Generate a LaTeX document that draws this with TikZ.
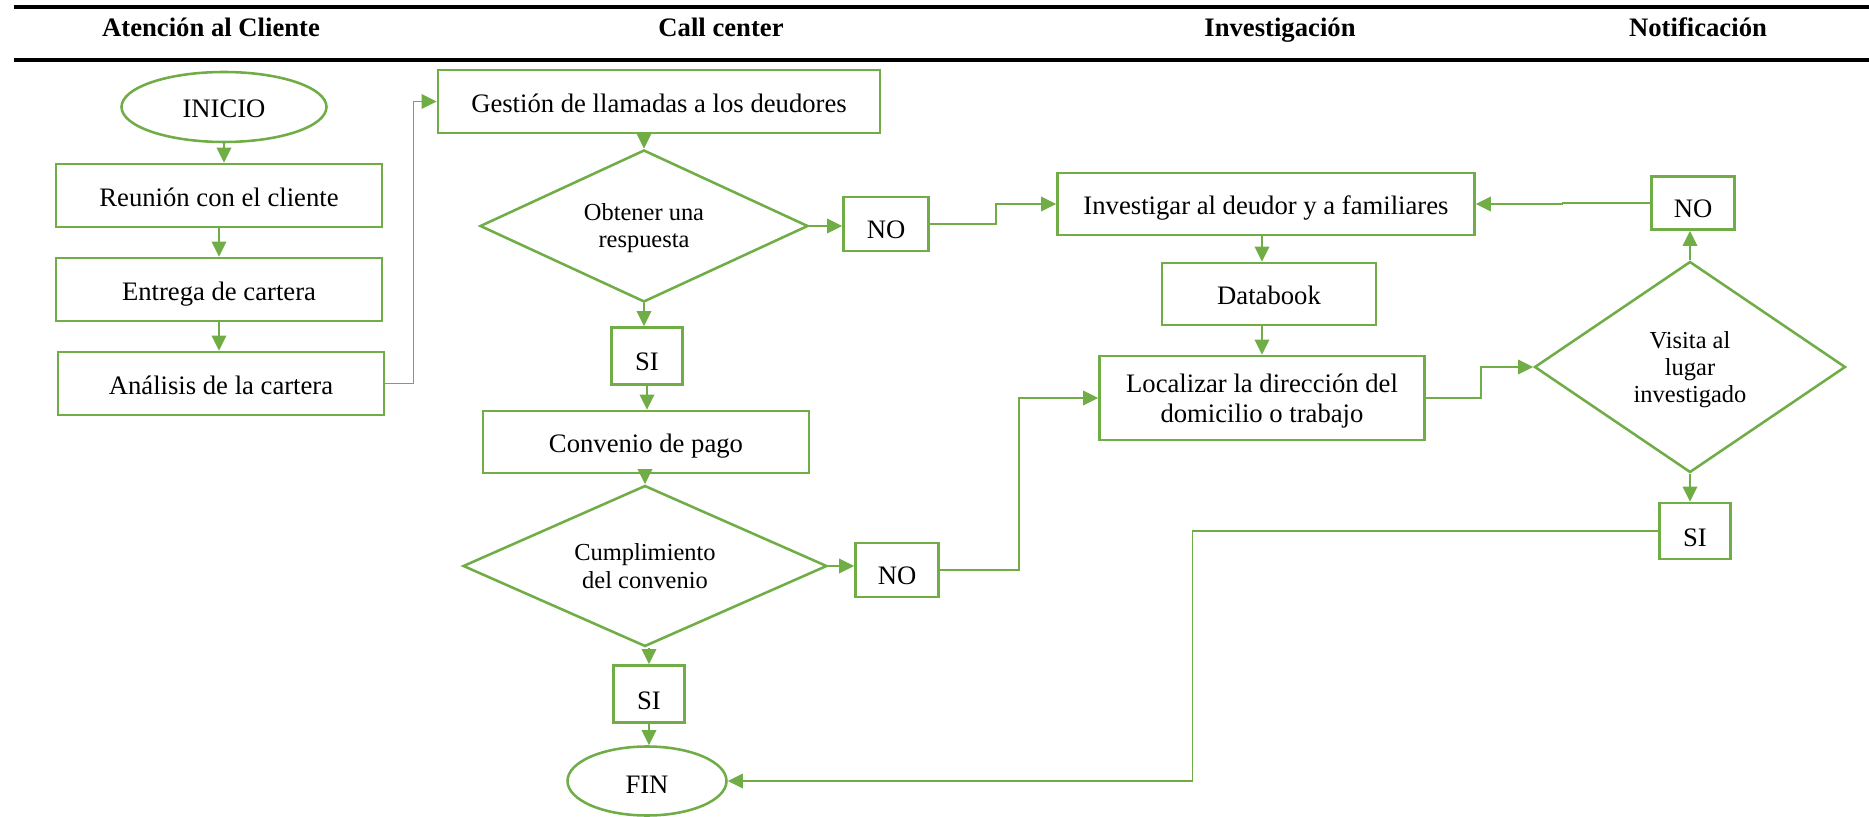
\documentclass[tikz,border=0pt]{standalone}
\usepackage{fontspec}
\setmainfont{Liberation Serif}
\usetikzlibrary{shapes.geometric,arrows.meta,calc}
\definecolor{flow}{HTML}{70AD47}
\tikzset{
  sz/.style 2 args={minimum width={#1*0.45pt}, minimum height={#2*0.45pt}},
  stepbox/.style={draw=flow, line width=1.15pt, inner sep=0pt, align=center,
    font=\fontsize{12}{13.5}\selectfont, text height=9.6pt, text depth=0pt},
  flag/.style={stepbox, text height=13.5pt},
  terminal/.style={ellipse, draw=flow, line width=1.15pt, inner sep=0pt,
    font=\fontsize{12}{14}\selectfont, text depth=0pt},
  decision/.style={diamond, draw=flow, line width=1.15pt, inner sep=0pt, aspect=2,
    align=center, font=\fontsize{11}{12.3}\selectfont,
    text height=19.8pt, text depth=0pt},
  arr/.style={draw=flow, line width=0.65pt, -{Triangle[length=6.8pt,width=6.6pt]}},
  lane/.style={anchor=base, font=\bfseries\fontsize{12}{14}\selectfont},
  rule/.style={draw=black, line width=1.4pt}
}
\begin{document}
\begin{tikzpicture}[x=0.45pt, y=-0.45pt]
\useasboundingbox (0,0) rectangle (1869,817);

% lane titles between two rules
\coordinate (r1a) at (14,7);   \coordinate (r1b) at (1869,7);
\coordinate (r2a) at (14,60);  \coordinate (r2b) at (1869,60);
\draw[rule] (r1a) -- (r1b);
\draw[rule] (r2a) -- (r2b);
\node[lane] (hA) at (211,37)  {Atención al Cliente};
\node[lane] (hC) at (721,37)  {Call center};
\node[lane] (hI) at (1280,37) {Investigación};
\node[lane] (hN) at (1698,37) {Notificación};

% customer service
\node[terminal, sz={205}{70}, text height=9.9pt] (inicio) at (224,107) {INICIO};
\node[stepbox, sz={326}{63}] (reunion)  at (219,195.5) {Reunión con el cliente};
\node[stepbox, sz={326}{63}] (entrega)  at (219,289.5) {Entrega de cartera};
\node[stepbox, sz={326}{63}] (analisis) at (221,383.5) {Análisis de la cartera};

% call center
\node[stepbox, sz={442}{63}] (gestion) at (659,101.5) {Gestión de llamadas a los deudores};
\node[decision, sz={328}{152}] (d1) at (644,226) {Obtener una\\respuesta};
\node[flag, sz={85}{54}] (no1) at (886,224) {NO};
\node[flag, sz={71}{57}] (si1) at (647,356) {SI};
\node[stepbox, sz={326}{62}] (convenio) at (646,442) {Convenio de pago};
\node[decision, sz={364}{161}] (d2) at (645,566) {Cumplimiento\\del convenio};
\node[flag, sz={83}{54}] (no2) at (897,570) {NO};
\node[flag, sz={71}{57}] (si2) at (649,694) {SI};
\node[terminal, sz={159}{69}, text height=11.2pt] (fin) at (647,781) {FIN};

% investigation
\node[stepbox, sz={417}{62}] (inv) at (1266,204) {Investigar al deudor y a familiares};
\node[stepbox, sz={214}{62}] (databook) at (1269,294) {Databook};
\node[stepbox, sz={325}{84}, text height=22.5pt] (loc) at (1262,398)
  {Localizar la dirección del\\domicilio o trabajo};

% notification
\node[decision, sz={311}{211}, text height=32.4pt] (visita) at (1690,367) {Visita al\\lugar\\investigado};
\node[flag, sz={83}{53}] (no3) at (1693,203) {NO};
\node[flag, sz={71}{56}] (si3) at (1695,531) {SI};

% connectors
\draw[arr] (inicio.south) -- (inicio.south |- reunion.north);
\draw[arr] (reunion.south) -- (reunion.south |- entrega.north);
\draw[arr] (entrega.south) -- (entrega.south |- analisis.north);
\draw[arr] (analisis.east) -- ++(28,0) |- (gestion.west);
\draw[arr] (d1.north |- gestion.south) -- (d1.north);
\draw[arr] (d1.east) -- (no1.west |- d1.east);
\draw[arr] (no1.east) -- ++(66,0) |- (inv.west);
\draw[arr] (d1.south) -- (d1.south |- si1.north);
\draw[arr] (si1.south) -- (si1.south |- convenio.north);
\draw[arr] (d2.north |- convenio.south) -- (d2.north);
\draw[arr] (d2.east) -- (no2.west |- d2.east);
\draw[arr] (no2.east) -- ++(79,0) |- (loc.west);
\draw[arr] (si2.north |- d2.south) -- (si2.north);
\draw[arr] (si2.south) -- (si2.south |- fin.north);
\draw[arr] (loc.north |- inv.south) -- (loc.north |- databook.north);
\draw[arr] (loc.north |- databook.south) -- (loc.north);
\draw[arr] (loc.east) -- ++(55,0) |- (visita.west);
\draw[arr] (visita.north) -- (visita.north |- no3.south);
\draw[arr] (no3.west) -- ++(-88,0) |- (inv.east);
\draw[arr] (visita.south) -- (visita.south |- si3.north);
\draw[arr] (si3.west) -- ++(-466,0) |- (fin.east);
\end{tikzpicture}
\end{document}
